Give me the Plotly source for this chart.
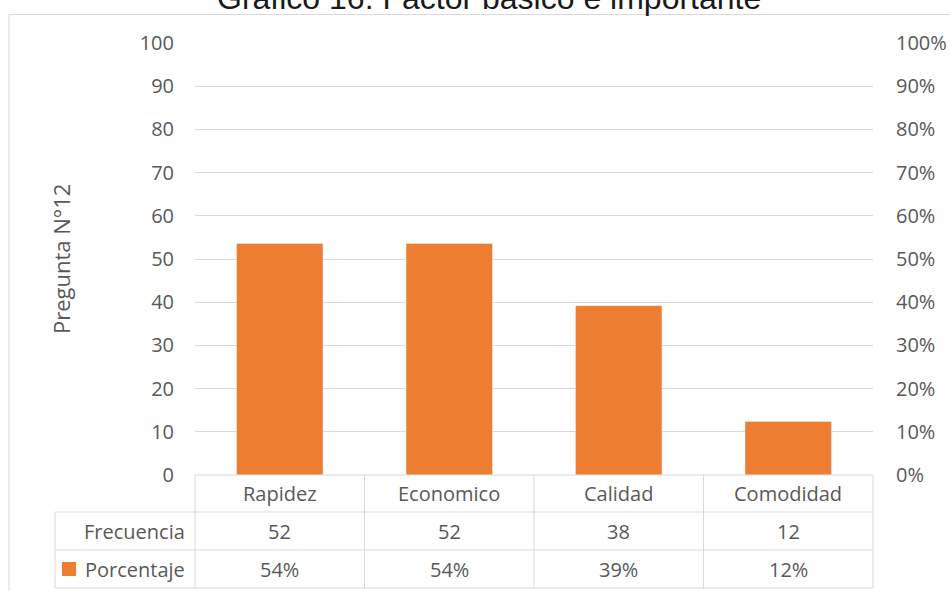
import plotly.graph_objects as go

categories = ["Rapidez", "Economico", "Calidad", "Comodidad"]
frecuencia = [52, 52, 38, 12]
porcentaje = [0.536, 0.536, 0.392, 0.124]
porcentaje_labels = ["54%", "54%", "39%", "12%"]
left_ticks = list(range(0, 101, 10))
right_ticks = [i / 10 for i in range(0, 11)]

W, H = 950, 591
L, R, T, B = 195, 873, 43, 475
PW, PH = R - L, B - T

def px(x):
    return (x - L) / PW

def py(y):
    return (B - y) / PH

GRID = "#d9d9d9"
TXT = "#595959"
FONT = "Open Sans"
ORANGE = "#ED7D31"

fig = go.Figure()
fig.add_trace(go.Bar(
    x=categories, y=porcentaje, yaxis="y2", marker_color=ORANGE,
    name="Porcentaje", showlegend=False, hoverinfo="skip"))
fig.add_trace(go.Scatter(
    x=categories, y=frecuencia, mode="markers", marker=dict(opacity=0),
    name="Frecuencia", showlegend=False, hoverinfo="skip"))

shapes = []
def line(x0, y0, x1, y1):
    shapes.append(dict(type="line", xref="paper", yref="paper",
                       x0=px(x0), y0=py(y0), x1=px(x1), y1=py(y1),
                       line=dict(color=GRID, width=1), layer="above"))

# outer chart border
shapes.append(dict(type="rect", xref="paper", yref="paper",
                   x0=px(9), y0=py(14.5), x1=px(960), y1=py(610),
                   line=dict(color=GRID, width=1), layer="below"))
# table lines
col_x = [195, 364.5, 534, 703.5, 873]
line(195, 475, 873, 475)
for yy in (512, 550, 588):
    line(55, yy, 873, yy)
line(55, 512, 55, 588)
for cx in col_x:
    line(cx, 475, cx, 588)
# legend key
shapes.append(dict(type="rect", xref="paper", yref="paper",
                   x0=px(62), y0=py(576), x1=px(76), y1=py(562),
                   fillcolor=ORANGE, line=dict(width=0)))

ann = []
row_y = [493.5, 531, 569]
for i, c in enumerate(categories):
    ann.append(dict(x=c, xref="x", y=py(row_y[0]), yref="paper", text=c,
                    showarrow=False, font=dict(family=FONT, size=20, color=TXT),
                    xanchor="center", yanchor="middle"))
    ann.append(dict(x=c, xref="x", y=py(row_y[1]), yref="paper", text=str(frecuencia[i]),
                    showarrow=False, font=dict(family=FONT, size=20, color=TXT),
                    xanchor="center", yanchor="middle"))
    ann.append(dict(x=c, xref="x", y=py(row_y[2]), yref="paper", text=porcentaje_labels[i],
                    showarrow=False, font=dict(family=FONT, size=20, color=TXT),
                    xanchor="center", yanchor="middle"))
ann.append(dict(x=px(187), xref="paper", y=py(row_y[1]), yref="paper", text="Frecuencia",
                showarrow=False, font=dict(family=FONT, size=20, color=TXT),
                xanchor="right", yanchor="middle"))
ann.append(dict(x=px(187), xref="paper", y=py(row_y[2]), yref="paper", text="Porcentaje",
                showarrow=False, font=dict(family=FONT, size=20, color=TXT),
                xanchor="right", yanchor="middle"))
ann.append(dict(x=px(61), xref="paper", y=0.5, yref="paper", text="Pregunta N°12",
                textangle=-90, showarrow=False, font=dict(family=FONT, size=22, color=TXT),
                xanchor="center", yanchor="middle"))
ann.append(dict(x=px(489), xref="paper", y=py(-2), yref="paper",
                text="Gráfico 16: Factor básico e importante",
                showarrow=False, font=dict(family="Liberation Sans, Arial", size=32, color="#1a1a1a"),
                xanchor="center", yanchor="middle"))

fig.update_layout(
    width=W, height=H,
    margin=dict(l=L, r=W - R, t=T, b=H - B, pad=0, autoexpand=False),
    paper_bgcolor="white", plot_bgcolor="white",
    bargap=0.49,
    showlegend=False,
    xaxis=dict(range=[-0.5, 3.5], showticklabels=False, showgrid=False,
               zeroline=False, showline=False, fixedrange=True, automargin=False),
    yaxis=dict(range=[0, 100], tickvals=left_ticks, showgrid=True, gridcolor=GRID,
               gridwidth=1, zeroline=False, showline=False, ticks="",
               ticklabelstandoff=20, automargin=False,
               tickfont=dict(family=FONT, size=20, color=TXT)),
    yaxis2=dict(range=[0, 1], tickvals=right_ticks, tickformat=".0%", overlaying="y",
                side="right", showgrid=False, zeroline=False, showline=False, ticks="",
                ticklabelstandoff=22, automargin=False,
                tickfont=dict(family=FONT, size=20, color=TXT)),
    shapes=shapes,
    annotations=ann,
)

fig.write_html("out.html")
